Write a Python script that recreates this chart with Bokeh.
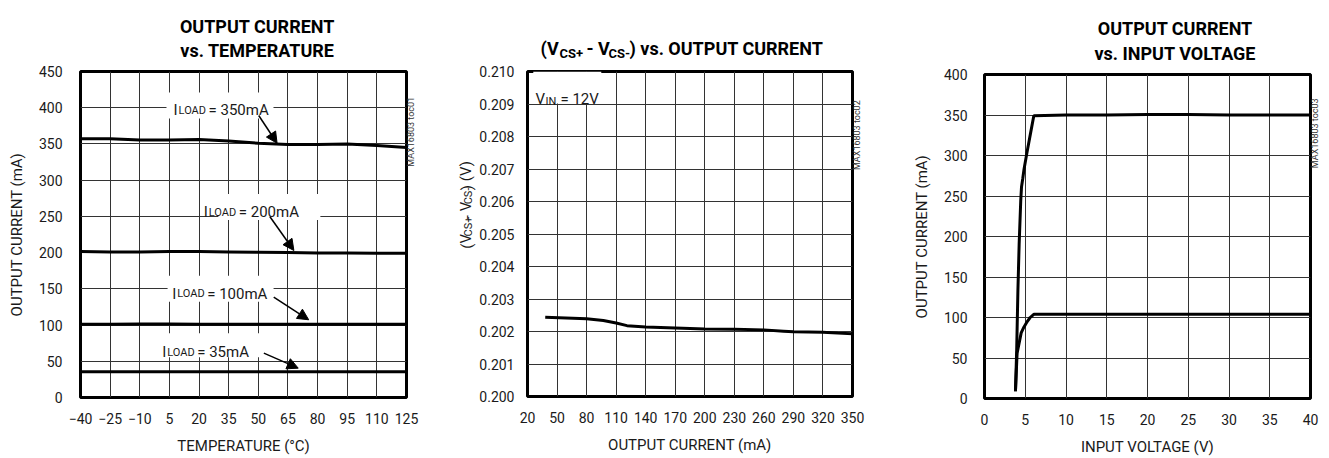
from bokeh.plotting import figure
from bokeh.layouts import row, column
from bokeh.models import (Range1d, FixedTicker, PrintfTickFormatter, Label, Arrow, NormalHead,
                          LinearAxis, CustomJSTickFormatter)
from bokeh.embed import file_html
from bokeh.resources import INLINE

FONT = "Roboto"
INK = "#1a1a1a"

# ---------------- data ----------------
# Chart 1: output current vs temperature
temp_c = [-40, -25, -10, 5, 20, 35, 50, 65, 80, 95, 110, 125]
iout_350 = [357, 357, 355.5, 355.5, 356, 354, 351, 349.3, 349.3, 350, 348, 345]
iout_200 = [201.5, 201, 201, 201.5, 201.5, 201, 200.5, 200, 199.5, 199.5, 199, 199]
iout_100 = [101, 101, 101.5, 101.5, 101, 101, 101, 101, 101, 101, 101, 101]
iout_35 = [35.5, 35.5, 35.5, 35.5, 35.5, 35.5, 35.5, 35.5, 35.5, 35.5, 35.5, 35.5]
load_names = ["350mA", "200mA", "100mA", "35mA"]

# Chart 2: (VCS+ - VCS-) vs output current
iout_ma = [38, 80, 97, 110, 121, 140, 170, 200, 230, 260, 280, 290, 320, 335, 350]
vcs_v = [0.20244, 0.20239, 0.20234, 0.20226, 0.20218, 0.20214, 0.20211, 0.20208,
         0.20207, 0.20205, 0.20201, 0.20199, 0.20198, 0.20195, 0.20193]

# Chart 3: output current vs input voltage
vin_350 = [3.8, 3.95, 4.1, 4.25, 4.45, 4.54, 4.7, 4.85, 5.2, 5.64, 6.05, 10, 15, 20, 25, 30, 35, 40]
iin_350 = [9, 60, 134, 190, 245, 261, 272, 283, 303, 327, 349, 350, 350, 350.5, 350.5, 350, 350, 350]
vin_100 = [3.8, 4.0, 4.5, 4.83, 5.24, 5.6, 6.05, 10, 15, 20, 25, 30, 35, 40]
iin_100 = [9, 56, 81, 88, 95, 100, 104, 104, 104, 104, 104, 104, 104, 104]

# ticks
t1_x = [-40, -25, -10, 5, 20, 35, 50, 65, 80, 95, 110, 125]
t1_y = [0, 50, 100, 150, 200, 250, 300, 350, 400, 450]
t2_x = [20, 50, 80, 110, 140, 170, 200, 230, 260, 290, 320, 350]
t2_y = [0.200, 0.201, 0.202, 0.203, 0.204, 0.205, 0.206, 0.207, 0.208, 0.209, 0.210]
t3_x = [0, 5, 10, 15, 20, 25, 30, 35, 40]
t3_y = [0, 50, 100, 150, 200, 250, 300, 350, 400]

TITLE_H = 64
MAIN_H = 458 - TITLE_H


def make_fig(width, left, right, top, frame_h, xr, yr, xt, yt, ystand):
    p = figure(width=width, height=MAIN_H, x_range=Range1d(*xr), y_range=Range1d(*yr),
               output_backend="svg", toolbar_location=None,
               min_border_left=left, min_border_right=right,
               min_border_top=top, min_border_bottom=MAIN_H - top - frame_h)
    p.xaxis.ticker = FixedTicker(ticks=xt)
    p.yaxis.ticker = FixedTicker(ticks=yt)
    p.xgrid.ticker = FixedTicker(ticks=xt)
    p.ygrid.ticker = FixedTicker(ticks=yt)
    p.grid.grid_line_color = "#333333"
    p.grid.grid_line_width = 1
    for ax in (p.xaxis, p.yaxis):
        ax.axis_line_color = None
        ax.major_tick_line_color = None
        ax.minor_tick_line_color = None
        ax.major_tick_out = 0
        ax.major_tick_in = 0
        ax.major_label_text_font = FONT
        ax.major_label_text_font_size = "14px"
        ax.major_label_text_color = INK
        ax.axis_label_text_font = FONT
        ax.axis_label_text_font_size = "15px"
        ax.axis_label_text_font_style = "normal"
        ax.axis_label_text_color = INK
    p.xaxis.major_label_standoff = 15
    p.xaxis.axis_label_standoff = 10
    p.yaxis.major_label_standoff = ystand
    p.yaxis.axis_label_standoff = 10
    p.outline_line_color = "black"
    p.outline_line_width = 3
    p.background_fill_color = "white"
    p.border_fill_color = "white"
    return p


def watermark(p, y_mid, text):
    ax = LinearAxis(ticker=FixedTicker(ticks=[y_mid]),
                    formatter=CustomJSTickFormatter(code=f"return '{text}';"),
                    axis_line_color=None, major_tick_line_color=None,
                    minor_tick_line_color=None, major_tick_out=0, major_tick_in=0,
                    major_label_standoff=5, major_label_orientation=1.5708,
                    major_label_text_font=FONT, major_label_text_font_size="9px",
                    major_label_text_color="#333333")
    p.add_layout(ax, "right")


def aux(width, height):
    f = figure(width=width, height=height, x_range=Range1d(0, width), y_range=Range1d(height, 0),
               x_axis_type=None, y_axis_type=None, output_backend="svg",
               toolbar_location=None, min_border=0)
    f.outline_line_color = None
    f.background_fill_color = "white"
    f.border_fill_color = "white"
    return f


def lab(p, x, y, text, size, bold=False, align="left", angle=0, xoff=0, yoff=0, color=INK):
    p.add_layout(Label(x=x, y=y, text=text, text_font=FONT, text_font_size=f"{size}px",
                       text_font_style="bold" if bold else "normal", text_align=align,
                       text_baseline="alphabetic", angle=angle, x_offset=xoff, y_offset=yoff,
                       text_color=color))


def iload(p, x, y, name):
    lab(p, x, y, "I", 15)
    lab(p, x, y, "LOAD", 11, xoff=5)
    lab(p, x, y, "= " + name, 15, xoff=35)


def arrow(p, xs, ys, xe, ye):
    p.add_layout(Arrow(end=NormalHead(size=11, fill_color="black", line_color="black"),
                       x_start=xs, y_start=ys, x_end=xe, y_end=ye,
                       line_color="black", line_width=1.5))


VERT = 1.5708

# ---------------- chart 1 ----------------
p1 = make_fig(446, 80, 40, 71 - TITLE_H, 326, (-40, 125), (0, 450), t1_x, t1_y, 18)
p1.xaxis.axis_label = "TEMPERATURE (°C)"
p1.yaxis.axis_label = "OUTPUT CURRENT (mA)"
p1.rect(x=[30.6, 55.6, 30.9, 25.9], y=[403, 263, 150, 72], width=[107, 102, 106, 103],
        height=[26, 26, 26, 24], width_units="screen", height_units="screen",
        fill_color="white", line_color=None)
for ys in (iout_350, iout_200, iout_100, iout_35):
    p1.line(temp_c, ys, line_color="black", line_width=3)
iload(p1, 7.1, 396.2, load_names[0])
iload(p1, 22.4, 255.8, load_names[1])
iload(p1, 6.4, 143.1, load_names[2])
iload(p1, 1.35, 62.5, load_names[3])
arrow(p1, 50.2, 389.3, 59.5, 351)
arrow(p1, 55.8, 249.9, 68, 202.9)
arrow(p1, 57.8, 138.4, 75.5, 107.3)
arrow(p1, 52.8, 61.2, 70.2, 40.5)
watermark(p1, 408, "MAX16803 toc01")

t1 = aux(446, TITLE_H)
lab(t1, 242, 26, "OUTPUT CURRENT", 18, bold=True, align="center", color="black")
lab(t1, 242, 50, "vs. TEMPERATURE", 18, bold=True, align="center", color="black")
col1 = column(t1, p1)

# ---------------- chart 2 ----------------
p2 = make_fig(412, 49, 36, 71 - TITLE_H, 325, (20, 350), (0.200, 0.210), t2_x, t2_y, 13)
p2.yaxis[0].formatter = PrintfTickFormatter(format="%.3f")
p2.xaxis.axis_label = "OUTPUT CURRENT (mA)"
p2.rect(x=[60.4], y=[0.209508], width=[68], height=[32], width_units="screen",
        height_units="screen", fill_color="white", line_color=None)
p2.line(iout_ma, vcs_v, line_color="black", line_width=3)
lab(p2, 28.1, 0.20916, "V", 15)
lab(p2, 28.1, 0.20916, "IN", 11, xoff=10, yoff=-3)
lab(p2, 28.1, 0.20916, "= 12V", 15, xoff=25)
watermark(p2, 0.209169, "MAX16803 toc02")

t2 = aux(442, TITLE_H)
lab(t2, 94, 48, "(V", 18, bold=True, color="black")
lab(t2, 113, 53, "CS+", 13, bold=True, color="black")
lab(t2, 140, 48, "- V", 18, bold=True, color="black")
lab(t2, 162, 53, "CS-", 13, bold=True, color="black")
lab(t2, 183, 48, ") vs. OUTPUT CURRENT", 18, bold=True, color="black")
l2 = aux(30, MAIN_H)
lab(l2, 20, 215, "(V", 15, angle=VERT)
lab(l2, 22, 200, "CS+", 11, angle=VERT)
lab(l2, 20, 179, "- V", 15, angle=VERT)
lab(l2, 22, 161, "CS-", 11, angle=VERT)
lab(l2, 20, 144, ") (V)", 15, angle=VERT)
col2 = column(t2, row(l2, p2))

# ---------------- chart 3 ----------------
p3 = make_fig(441, 96, 19, 74 - TITLE_H, 325, (0, 40), (0, 400), t3_x, t3_y, 17)
p3.xaxis.axis_label = "INPUT VOLTAGE (V)"
p3.yaxis.axis_label = "OUTPUT CURRENT (mA)"
p3.line(vin_350, iin_350, line_color="black", line_width=3)
p3.line(vin_100, iin_100, line_color="black", line_width=3)
watermark(p3, 368, "MAX16803 toc03")

t3 = aux(441, TITLE_H)
lab(t3, 258, 28, "OUTPUT CURRENT", 18, bold=True, align="center", color="black")
lab(t3, 258, 53, "vs. INPUT VOLTAGE", 18, bold=True, align="center", color="black")
col3 = column(t3, p3)

layout = row(col1, col2, col3)
open("out.html", "w").write(file_html(layout, INLINE))
